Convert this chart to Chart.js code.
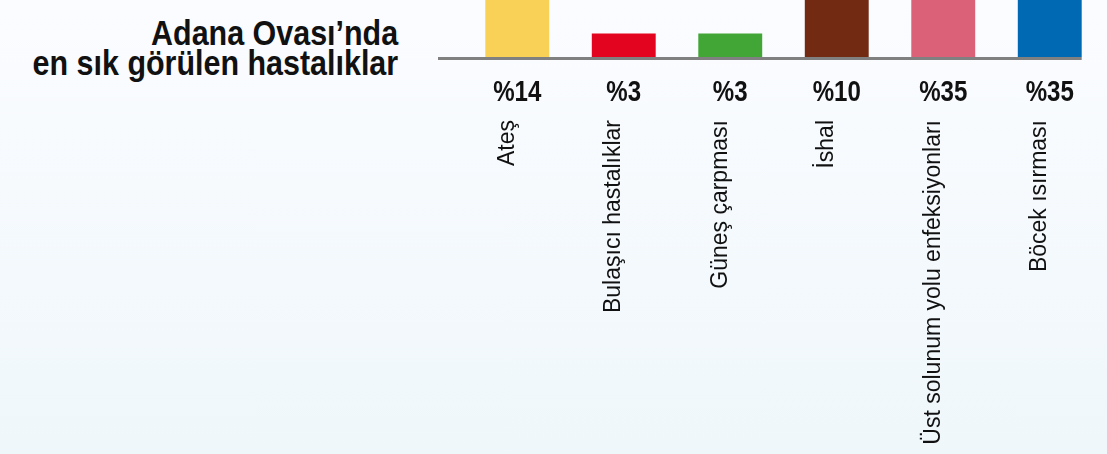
<!DOCTYPE html>
<html>
<head>
<meta charset="utf-8">
<script src="https://cdn.jsdelivr.net/npm/chart.js@4"></script>
<style>
  html, body { margin: 0; padding: 0; }
  body {
    width: 1107px;
    height: 454px;
    overflow: hidden;
    position: relative;
    background: linear-gradient(#fbfcff, #eff7fb);
  }
  #title {
    position: absolute;
    right: 709px;
    top: 18px;
    text-align: right;
    white-space: nowrap;
    font-family: 'Liberation Sans', Arial, sans-serif;
    font-weight: bold;
    font-size: 35px;
    line-height: 30px;
    color: #111;
    transform: scaleX(0.87);
    transform-origin: right top;
  }
  #wrap { position: absolute; left: 0; top: 0; width: 1107px; height: 454px; }
</style>
</head>
<body>
<div id="title">Adana Ovası’nda<br>en sık görülen hastalıklar</div>
<div id="wrap"><canvas id="diseaseChart" width="1107" height="454"></canvas></div>
<script>
const categories = ['Ateş', 'Bulaşıcı hastalıklar', 'Güneş çarpması', 'İshal', 'Üst solunum yolu enfeksiyonları', 'Böcek ısırması'];
const shares = [14, 3, 3, 10, 35, 35];
const barColors = ['#f9d157', '#e3051f', '#42a636', '#722a12', '#da6178', '#0069b4'];

// base line + percent labels under the bars
const valueLabels = {
  id: 'valueLabels',
  beforeDatasetsDraw(chart) {
    const { ctx, chartArea } = chart;
    const bars = chart.getDatasetMeta(0).data;
    const last = bars[bars.length - 1];
    ctx.save();
    ctx.strokeStyle = '#808080';
    ctx.lineWidth = 3;
    ctx.beginPath();
    ctx.moveTo(chartArea.left - 26, chartArea.bottom + 1.5);
    ctx.lineTo(last.x + last.width / 2, chartArea.bottom + 1.5);
    ctx.stroke();
    ctx.restore();
  },
  afterDatasetsDraw(chart) {
    const { ctx, chartArea } = chart;
    ctx.save();
    ctx.font = "bold 29px 'Liberation Sans', Arial, sans-serif";
    ctx.fillStyle = '#111';
    ctx.textAlign = 'center';
    ctx.textBaseline = 'alphabetic';
    chart.getDatasetMeta(0).data.forEach((bar, i) => {
      // condensed look: squeeze horizontally
      ctx.save();
      ctx.translate(bar.x, chartArea.bottom + 44);
      ctx.scale(0.83, 1);
      ctx.fillText('%' + shares[i], 0, 0);
      ctx.restore();
    });
    ctx.restore();
  },
};

new Chart('diseaseChart', {
  type: 'bar',
  data: {
    labels: categories,
    datasets: [{
      data: shares,
      backgroundColor: barColors,
      borderWidth: 0,
      barPercentage: 0.6,
      categoryPercentage: 1,
    }],
  },
  options: {
    responsive: false,
    animation: false,
    layout: { padding: { left: 464, right: 4, top: 0, bottom: 0 } },
    plugins: {
      legend: { display: false },
      tooltip: { enabled: false },
    },
    scales: {
      x: {
        offset: true,
        grid: { display: false, drawTicks: false },
        border: { display: false },
        afterFit: scale => {
          scale.height = 397;
          scale.paddingLeft = 0;
          scale.paddingRight = 0;
        },
        ticks: {
          minRotation: 90,
          maxRotation: 90,
          padding: 63,
          labelOffset: -10,
          autoSkip: false,
          color: '#111',
          font: { family: "'Liberation Sans', Arial, sans-serif", size: 23 },
        },
      },
      y: {
        display: false,
        min: 0,
        max: 7.3,
      },
    },
  },
  plugins: [valueLabels],
});
</script>
</body>
</html>
